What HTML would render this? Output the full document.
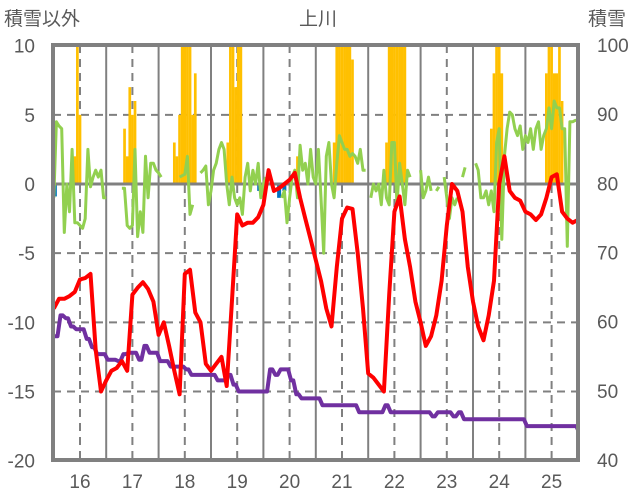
<!DOCTYPE html>
<html><head><meta charset="utf-8"><style>
html,body{margin:0;padding:0;background:#fff;}
svg{display:block;font-family:"Liberation Sans","Noto Sans CJK JP",sans-serif;}
</style></head><body>
<svg id="chart" width="636" height="501">
<text x="4" y="25" font-size="19" fill="#595959">積雪以外</text>
<text x="318" y="25" font-size="19" fill="#595959" text-anchor="middle">上川</text>
<text x="588" y="25" font-size="19" fill="#595959">積雪</text>
<g id="grid"></g>
<g id="marks" clip-path="url(#clip)"></g>
<g id="axes"></g>
<defs><clipPath id="clip"><rect x="53" y="45" width="525" height="415"/></clipPath></defs>
</svg>
<script>
const leftTicks=[10,5,0,-5,-10,-15,-20];
const leftTickLabels=["10","5","0","-5","-10","-15","-20"];
const rightTicks=[100,90,80,70,60,50,40];
const rightTickLabels=["100","90","80","70","60","50","40"];
const years=[16,17,18,19,20,21,22,23,24,25];
const yearLabels=["16","17","18","19","20","21","22","23","24","25"];
const redStart=15.5, redStep=0.1;
const redValues=[-9.0,-8.3,-8.3,-8.1,-7.8,-6.9,-6.8,-6.5,-12.0,-15.0,
-14.2,-13.5,-13.3,-12.8,-13.5,-8.0,-7.5,-7.1,-7.6,-8.5,
-10.9,-10.0,-11.7,-13.5,-15.2,-6.5,-6.2,-9.3,-10.0,-13.0,
-13.5,-13.0,-12.5,-14.6,-8.4,-2.2,-3.0,-2.8,-2.8,-2.4,
-1.5,1.0,-0.5,-0.3,0,0.3,0.8,-1.0,-2.5,-4.0,
-5.5,-7.0,-9.0,-10.3,-6.0,-2.5,-1.7,-1.8,-5.0,-9.0,
-13.7,-14.0,-14.5,-15.0,-8.0,-2.0,-0.9,-4.0,-6.0,-8.5,
-10.0,-11.7,-11.0,-9.5,-7.0,-3.0,0,-0.5,-2.0,-6.0,
-8.5,-10.3,-11.3,-9.5,-7.0,0,2.0,-0.5,-1.0,-1.2,
-2.0,-2.2,-2.6,-2.2,-1.0,0.5,0.7,-2.0,-2.5,-2.8,-2.6];
const purpleValues=[-11,-9.5,-9.7,-10.3,-10.5,-10.5,-11.2,-11.8,-12.3,-12.3,
-12.7,-12.7,-12.8,-12.3,-12.2,-12.2,-12.7,-11.7,-12.2,-12.2,
-12.8,-12.8,-13.2,-13.2,-13.2,-13.4,-13.8,-13.8,-13.8,-13.8,
-13.8,-14.2,-14.2,-13.8,-14.5,-15,-15,-15,-15,-15,
-15,-13.4,-13.8,-13.4,-13.4,-14.2,-15.2,-15.5,-15.5,-15.5,
-15.5,-16,-16,-16,-16,-16,-16,-16,-16.5,-16.5,
-16.5,-16.5,-16.5,-16,-16.5,-16.5,-16.5,-16.5,-16.5,-16.5,
-16.5,-16.5,-16.8,-16.5,-16.5,-16.5,-16.8,-16.5,-17,-17,
-17,-17,-17,-17,-17,-17,-17,-17,-17,-17,
-17.5,-17.5,-17.5,-17.5,-17.5,-17.5,-17.5,-17.5,-17.5,-17.5,-18];
const greenStep=0.05;
const greenValues=[-1,4.5,4.2,4.0,-3.5,0,-2,2.5,-2.8,-2.8,
-3,-3.2,-2.5,2.5,-0.2,0.5,1,0.5,1,-1,
-1,null,null,null,null,null,-0.3,-0.3,-3.0,-3.2,
-3,2.5,-3.8,-2,-3.5,2,-1,1.5,1.5,1,
0.8,0.5,null,null,null,null,null,null,0.5,0.6,
0.7,2,-2.2,-1.5,null,null,0.8,1,1.3,-1.5,
-0.5,1,1.5,2.5,3,2.5,0,-1.5,0.5,-1,
-1.5,-1,-2.2,0.5,1.5,-0.5,1,0,1.5,-1,
0,0.5,null,null,null,null,null,-1,-0.5,-2.8,
-1,0.5,1,-1,2.8,1.0,1.5,0,2.5,0.5,
0,2.5,-1,-5,2,3,0,-1,1.5,3.5,
3,2.5,2.5,2.0,2.2,2.0,1.5,2.5,1,1.0,
null,-1,0,-0.5,0,-1.5,1,-1,-1.5,3,
3,-1.5,1.5,0,-1.5,1,0.5,null,null,null,
1,-1,-0.5,0.5,-0.5,null,-0.5,-0.2,null,0.5,
-1,-2.5,-1,-1.5,-1,null,0.5,1.2,null,null,
null,1.5,1,-1,-1,-0.5,-1.5,-0.5,-2,3,
4,-4,2,4,5.2,5,4,3.5,4.2,2.5,
3.5,3,4,2.5,4,4.5,2.5,3.5,4,5.5,
4,6,5.5,5.5,4,4,-4.5,4.5,4.5,4.6,4.6];
const snowBarT=[15.9,15.95,16.0, 16.85,16.9,16.95,17.0,17.05,
17.8,17.85,17.9,17.95,18.0,18.05,18.1,18.15,18.2,
18.82,18.87,18.92,18.97,19.02,19.07, 20.15,
20.85,20.9,20.95,21.0,21.05,21.1,21.15,21.2,
21.85,21.9,21.95,22.0,22.05,22.1,22.15,22.2,
23.85,23.9,23.95,24.0,24.05,
24.9,24.95,25.0,25.05,25.1,25.15,25.2];
const snowBarV=[2,10,5, 4,2,7,5,6,
3,2,5,10,10,10,10,5,8,
3,10,10,7,10,10, 2,
3,10,10,10,10,10,10,9,
3,10,10,10,10,10,10,10,
4,8,10,10,8,
8,10,10,8,8,10,6];
const blueBarT=[15.52,19.42,19.8,19.9];
const blueBarV=[-0.9,-0.5,-1,-0.5];

const NS="http://www.w3.org/2000/svg";
const X0=53,X1=578,Y0=45,Y1=460;
function xs(t){return 80+(t-16)*52.4;}
function yl(v){return 184-v*(415/30);}
function yr(v){return Y0+(100-v)*(415/60);}
function mk(tag,attrs,parent){const e=document.createElementNS(NS,tag);for(const k in attrs)e.setAttribute(k,attrs[k]);parent.appendChild(e);return e;}
const grid=document.getElementById('grid'),marks=document.getElementById('marks'),axes=document.getElementById('axes');
leftTicks.forEach((v,i)=>{
  if(v!==10&&v!==-20&&v!==0){const l=mk('line',{x1:X0,x2:X1,y1:yl(v),y2:yl(v),stroke:'#808080','stroke-width':2,'stroke-dasharray':'8,6'},grid);
  
  }
  const t=mk('text',{x:35,y:yl(v)+7,'font-size':19,fill:'#595959','text-anchor':'end'},axes);t.textContent=leftTickLabels[i];
  
  
});
rightTicks.forEach((v,i)=>{
  const t=mk('text',{x:597,y:yr(v)+7,'font-size':19,fill:'#595959'},axes);t.textContent=rightTickLabels[i];
  
  
});
years.forEach((y,i)=>{
  const l=mk('line',{x1:xs(y),x2:xs(y),y1:Y0,y2:Y1,stroke:'#808080','stroke-width':2,'stroke-dasharray':'8,6'},grid);
  
  
  if(i<years.length-1){const s=mk('line',{x1:xs(y+0.5),x2:xs(y+0.5),y1:Y0,y2:Y1,stroke:'#808080','stroke-width':2},grid);
  
  }
  const t=mk('text',{x:xs(y),y:488,'font-size':19,fill:'#595959','text-anchor':'middle'},axes);t.textContent=yearLabels[i];
  
  
});
snowBarT.forEach((t,i)=>{
  const v=snowBarV[i];const r=mk('rect',{x:xs(t)-1.35,y:yl(v),width:2.7,height:yl(0)-yl(v),fill:'#FFC000'},marks);
  
  
});
blueBarT.forEach((t,i)=>{
  const v=blueBarV[i];const r=mk('rect',{x:xs(t)-2,y:yl(0),width:4,height:yl(v)-yl(0),fill:'#0070C0'},marks);
  
  
});
const zl=mk('line',{x1:X0,x2:X1,y1:yl(0),y2:yl(0),stroke:'#808080','stroke-width':3},marks);


function pathOf(vals,start,step){let d='',pen=false;vals.forEach((v,i)=>{if(v===null){pen=false;return;}const px=xs(start+i*step).toFixed(1),py=yl(v).toFixed(1);d+=(pen?'L':'M')+px+','+py;pen=true;});return d;}
function stepPath(vals,start,step){let d='';vals.forEach((v,i)=>{const px=xs(start+i*step),py=yl(v).toFixed(1);if(i===0)d+='M'+px.toFixed(1)+','+py;else d+='L'+(px-1.5).toFixed(1)+','+yl(vals[i-1]).toFixed(1)+'L'+(px+1.5).toFixed(1)+','+py;});d+='L'+xs(start+(vals.length-1)*step+0.05).toFixed(1)+','+yl(vals[vals.length-1]).toFixed(1);return d;}
const g=mk('path',{d:pathOf(greenValues,15.5,greenStep),fill:'none',stroke:'#92D050','stroke-width':3,'stroke-linejoin':'round'},marks);


const p=mk('path',{d:stepPath(purpleValues,redStart,redStep),fill:'none',stroke:'#7030A0','stroke-width':4,'stroke-linejoin':'round'},marks);


const r=mk('path',{d:pathOf(redValues,redStart,redStep),fill:'none',stroke:'#FF0000','stroke-width':4,'stroke-linejoin':'round'},marks);


const b=mk('rect',{x:X0,y:Y0,width:X1-X0,height:Y1-Y0,fill:'none',stroke:'#808080','stroke-width':4},axes);


</script>
</body></html>
